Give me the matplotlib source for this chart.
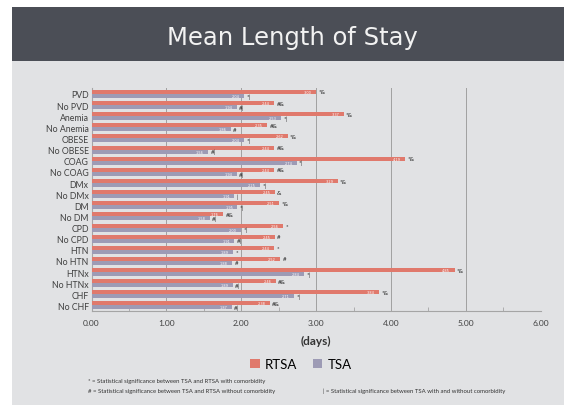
import matplotlib.pyplot as plt
import matplotlib.patches as mpatches
import numpy as np

# Daten
categories = ["PVD", "No PVD", "Anemia", "No Anemia", "OBESE", "No OBESE",
              "COAG", "No COAG", "DMx", "No DMx", "DM", "No DM", "CPD", "No CPD",
              "HTN", "No HTN", "HTNx", "No HTNx", "CHF", "No CHF"]
rtsa = [3.00, 2.44, 3.37, 2.35, 2.62, 2.44, 4.19, 2.44, 3.29, 2.45,
        2.51, 1.76, 2.56, 2.45, 2.44, 2.52, 4.85, 2.46, 3.84, 2.38]
tsa = [2.04, 1.94, 2.53, 1.86, 2.04, 1.56, 2.74, 1.94, 2.25, 1.91,
       1.95, 1.58, 2.00, 1.91, 1.89, 1.88, 2.84, 1.89, 2.71, 1.87]
rtsa_marks = ["*&", "#&", "*&", "#&", "*&", "#&", "*&", "#&", "*&", "&",
              "*&", "#&", "*", "#", "*", "#", "*&", "#&", "*&", "#&"]
tsa_marks = ["*|", "#|", "*|", "#", "*|", "#|", "*|", "#|", "*|", "|",
             "*|", "#|", "*|", "#|", "*", "#", "*|", "#|", "*|", "#|"]
xticks = [0, 1, 2, 3, 4, 5, 6]
footnotes = ["* = Statistical significance between TSA and RTSA with comorbidity",
             "# = Statistical significance between TSA and RTSA without comorbidity",
             "| = Statistical significance between TSA with and without comorbidity"]

c_rtsa = "#e0796c"
c_tsa = "#9d9bb5"
W, H = 564, 406

fig = plt.figure(figsize=(W / 100, H / 100), dpi=100, facecolor="white")

# Hintergrund und Titelbalken
fig.patches.append(mpatches.Rectangle((12 / W, 0), 1, 1 - 62 / H, transform=fig.transFigure,
                                      facecolor="#e1e2e4", edgecolor="none", zorder=-10))
fig.patches.append(mpatches.Rectangle((12 / W, 1 - 62 / H), 1, 54 / H, transform=fig.transFigure,
                                      facecolor="#4b4e56", edgecolor="none", zorder=-10))
fig.text(292 / W, 1 - 45 / H, "Mean Length of Stay", color="#f2f2f2", fontsize=17.5,
         ha="center", va="baseline", family="DejaVu Sans")

ax = fig.add_axes([91.5 / W, 1 - 312 / H, (540.7 - 91.5) / W, (312 - 89.4) / H])
ax.set_facecolor("none")

y = np.arange(len(categories))
h = 0.36
ax.barh(y - h / 2, rtsa, height=h, color=c_rtsa, label="RTSA", zorder=3)
ax.barh(y + h / 2, tsa, height=h, color=c_tsa, label="TSA", zorder=3)

# Werte in den Balken und Signifikanz-Zeichen
for i in range(len(categories)):
    ax.text(rtsa[i] - 0.06, y[i] - h / 2, f"{rtsa[i]:.2f}", color="white", fontsize=2.5,
            ha="right", va="center", zorder=4)
    ax.text(tsa[i] - 0.06, y[i] + h / 2, f"{tsa[i]:.2f}", color="white", fontsize=2.5,
            ha="right", va="center", zorder=4)
    ax.text(rtsa[i] + 0.03, y[i] - h / 2, rtsa_marks[i], color="#222222", fontsize=4.4,
            ha="left", va="center", family="Lato")
    ax.text(tsa[i] + 0.03, y[i] + h / 2, tsa_marks[i], color="#222222", fontsize=4.4,
            ha="left", va="center", family="Lato")

ax.set_xlim(0, 6)
ax.set_ylim(len(categories) - 0.5, -0.5)
ax.set_yticks(y)
ax.set_yticklabels(categories, fontsize=6.3, color="#404040", family="Lato")
ax.set_xticks(xticks)
ax.set_xticklabels([f"{v:.2f}" for v in xticks], fontsize=6, color="#404040", family="Lato")
ax.set_xticks(np.arange(0.5, 6, 1), minor=True)
ax.tick_params(axis="y", length=0, pad=2)
ax.tick_params(axis="x", which="major", length=0, pad=6)
ax.tick_params(axis="x", which="minor", length=3, direction="in", color="#a5a5a5")
ax.grid(axis="x", color="#a0a0a0", linewidth=0.7, zorder=0)
for s in ["top", "right"]:
    ax.spines[s].set_visible(False)
ax.spines["left"].set_color("#a5a5a5")
ax.spines["bottom"].set_color("#a5a5a5")
ax.set_xlabel("(days)", fontsize=8.5, fontweight="bold", family="Lato", color="#333333", labelpad=6)

fig.legend(loc="center", bbox_to_anchor=(301 / W, 1 - 365 / H), ncol=2, frameon=False,
           prop={"family": "Lato", "size": 9.5}, handlelength=0.7, handleheight=0.7,
           handletextpad=0.4, columnspacing=1.2)

fig.text(88 / W, 1 - 381.5 / H, footnotes[0], fontsize=4.3, family="Lato", color="#333333", va="center")
fig.text(88 / W, 1 - 391.5 / H, footnotes[1], fontsize=4.3, family="Lato", color="#333333", va="center")
fig.text(323 / W, 1 - 391.5 / H, footnotes[2], fontsize=4.3, family="Lato", color="#333333", va="center")

plt.savefig("out.png", dpi=100)
